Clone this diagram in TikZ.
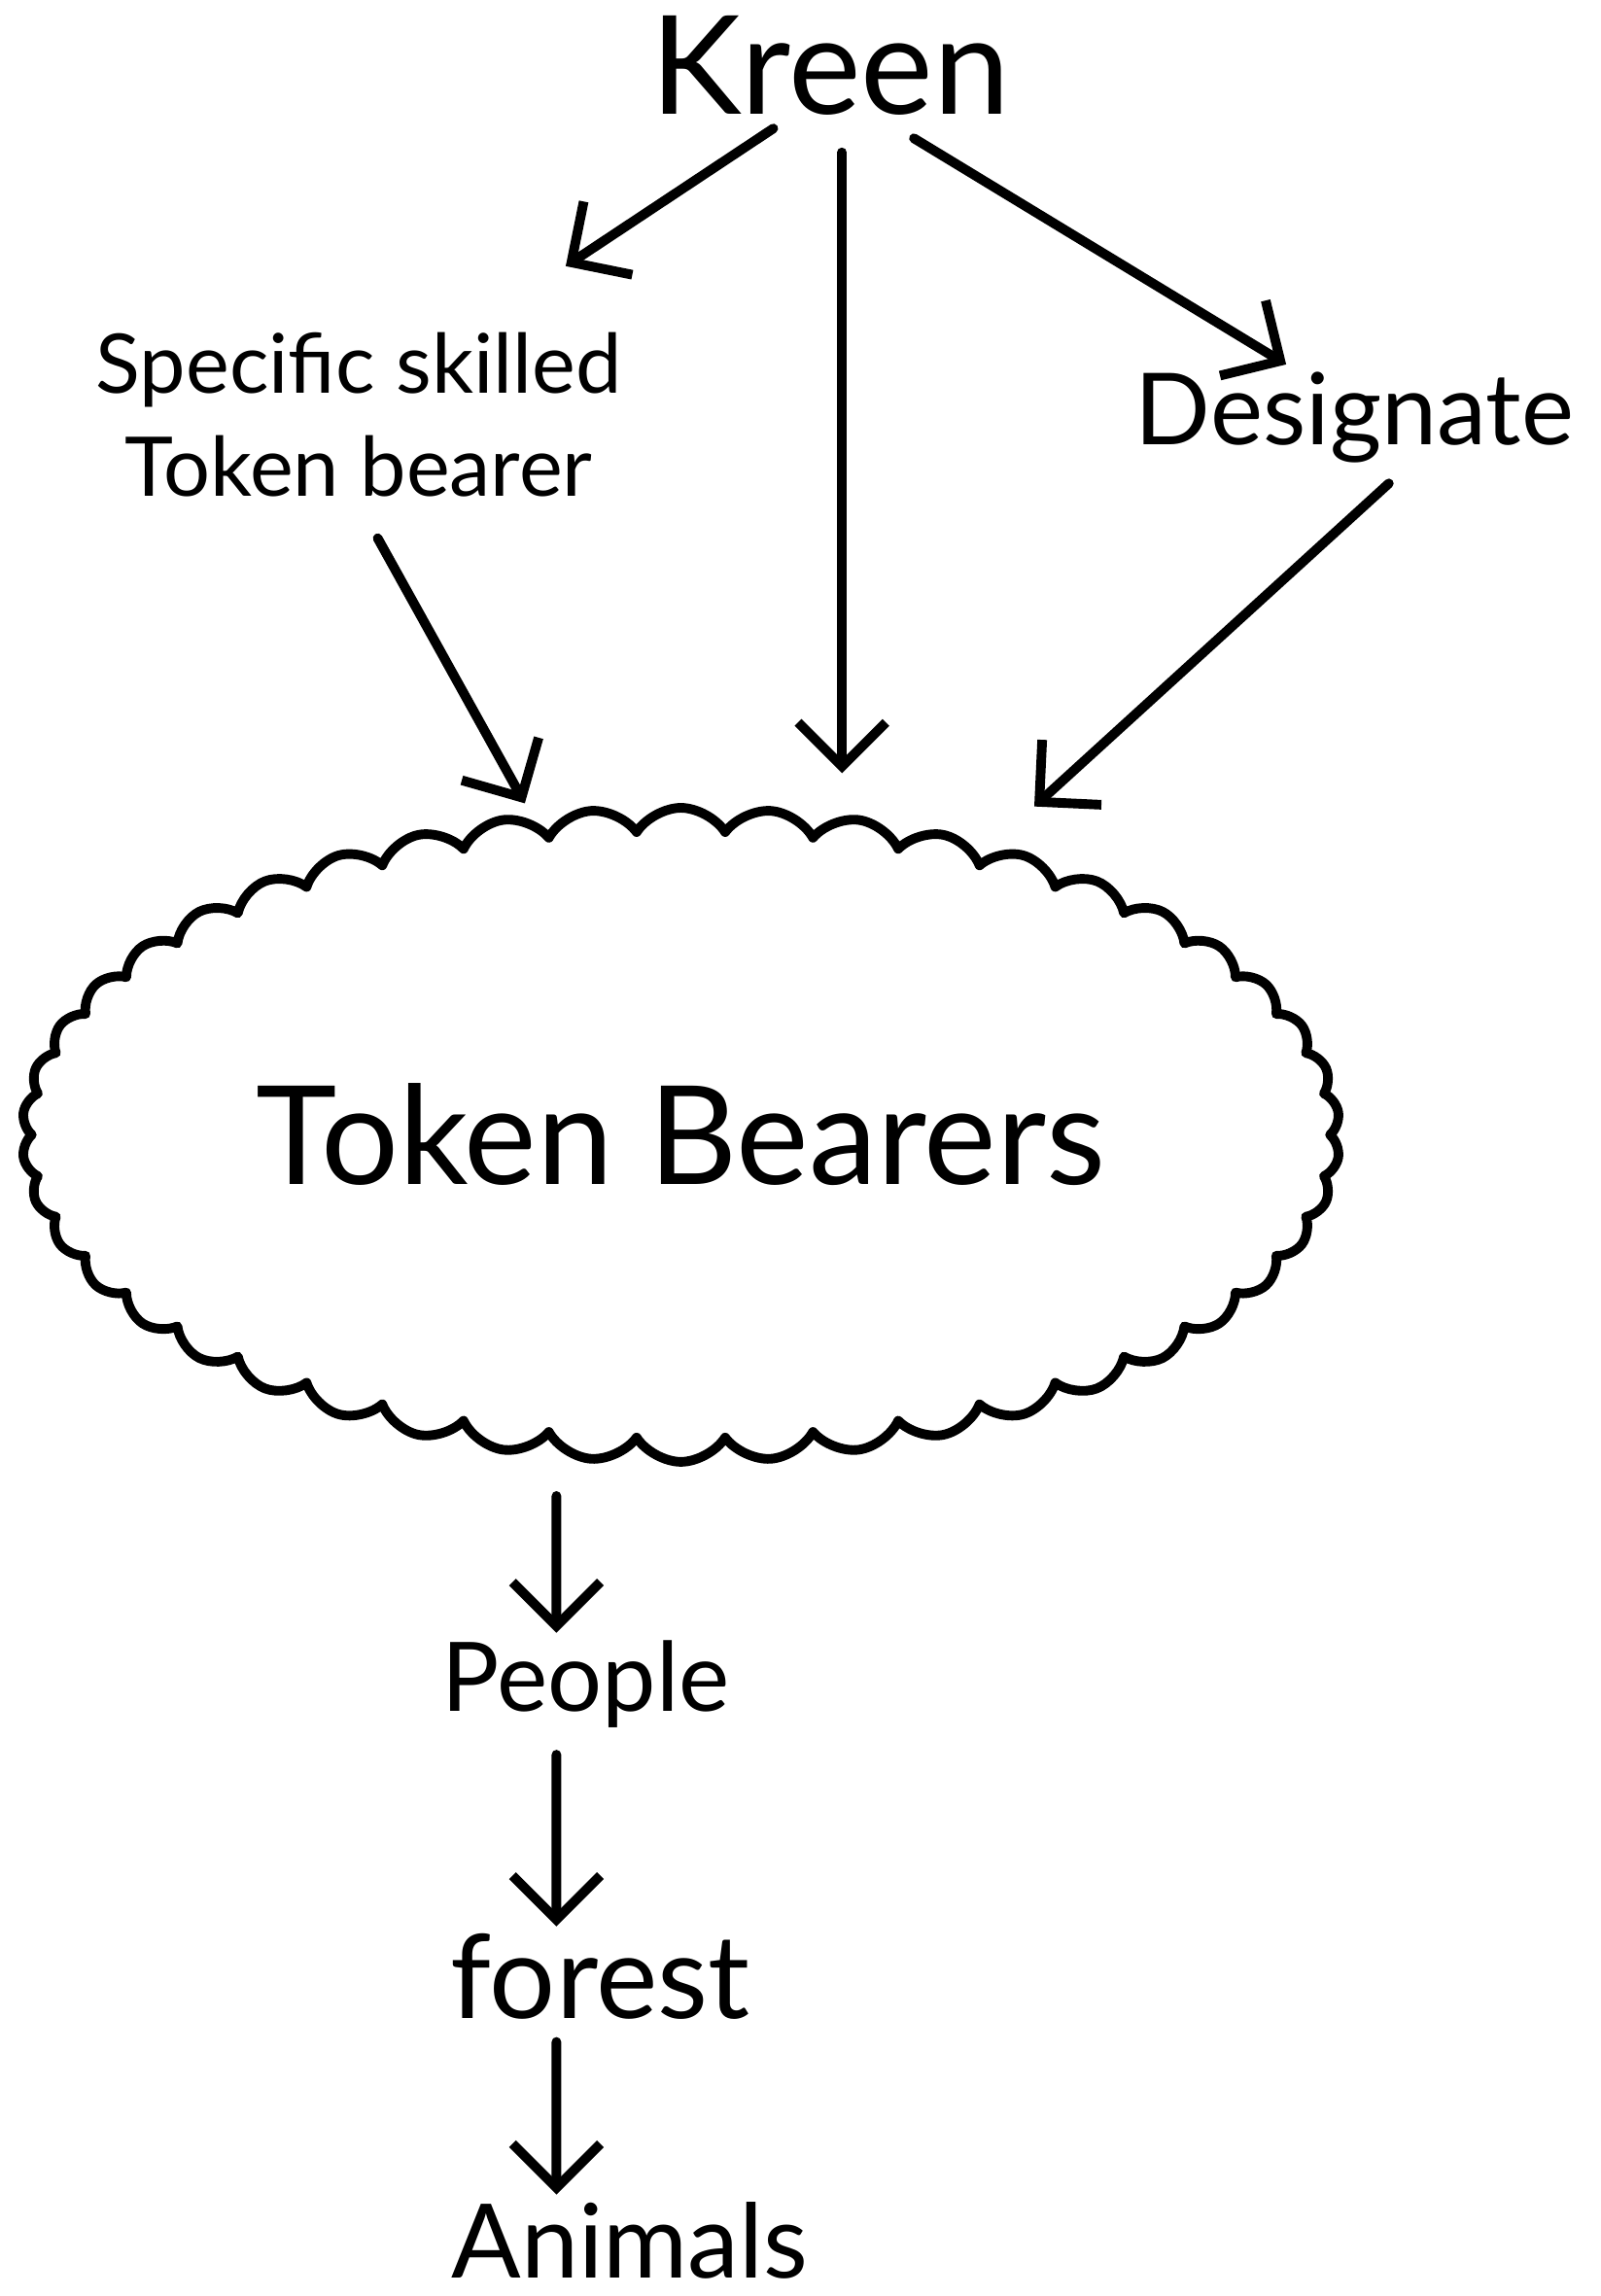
\documentclass[tikz,border=0pt]{standalone}
\usepackage{fontspec}
\setmainfont{Lato}
\usetikzlibrary{shapes.symbols, arrows.meta, positioning}

\tikzset{
  hand/.style={line width=2.8pt, line cap=round, line join=round},
  tip/.style={-{Straight Barb[length=4.5mm,width=9mm,line width=2.8pt]}},
  word/.style={inner sep=2pt, font=\fontsize{#1}{#1}\selectfont},
}

\begin{document}
\begin{tikzpicture}[x=0.15mm, y=-0.15mm]
  \useasboundingbox (0,0) rectangle (1093,1568);

  \node [word=40pt] (kreen) at (567,45) {Kreen};
  \node [word=24pt, align=center] (skilled) at (245,283) {Specific skilled\\[6pt]Token bearer};
  \node [word=29pt] (designate) at (925,285) {Designate};

  \node [cloud, draw, hand, cloud puffs=46, cloud puff arc=115, aspect=2.1,
         minimum width=13.5cm, minimum height=6.7cm, word=40pt] (bearers) at (465,775) {Token Bearers};

  \foreach \w/\s/\p [count=\i] in {People/28pt/{(400,1150)}, forest/34pt/{(410,1350)}, Animals/30pt/{(430,1530)}}
    \node [word=\s] (low-\i) at \p {\w};

  % arrows out of Kreen
  \draw [hand, tip, shorten <=1mm] ([xshift=-5mm]kreen.south) -- ([xshift=-6.5mm,yshift=6mm]skilled.north east);
  \draw [hand, tip, shorten <=3mm, shorten >=4.5mm] ([xshift=1.2mm]kreen.south) -- ([xshift=1.2mm]kreen.south |- bearers.64);
  \draw [hand, tip, shorten <=3mm] ([xshift=6mm]kreen.south) -- ([xshift=-7mm]designate.north);

  % into the cloud
  \draw [hand, tip, shorten <=4mm, shorten >=2mm] (skilled.south) -- (bearers.115);
  \draw [hand, tip, shorten <=2mm, shorten >=7.5mm] ([xshift=5mm]designate.south) -- (bearers.43);

  % chain below the cloud
  \draw [hand, tip, shorten <=3mm] ([xshift=-12.75mm]bearers.south) -- ([xshift=-3mm]low-1.north);
  \draw [hand, tip, shorten <=2mm] ([xshift=-3mm]low-1.south) -- ([xshift=-4.5mm]low-2.north);
  \draw [hand, tip, shorten <=1.5mm] ([xshift=-4.5mm]low-2.south) -- ([xshift=-7.5mm]low-3.north);
\end{tikzpicture}
\end{document}
